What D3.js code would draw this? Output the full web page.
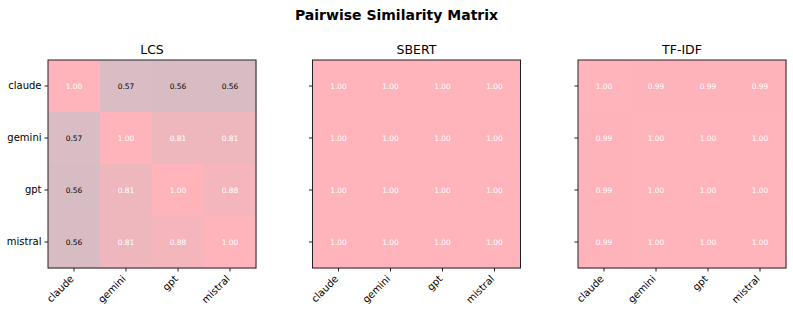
<!DOCTYPE html>
<html>
<head>
<meta charset="utf-8">
<script src="https://cdn.jsdelivr.net/npm/d3@7"></script>
<style>
  body { margin: 0; background: #fff; }
  svg { font-family: "DejaVu Sans", sans-serif; }
</style>
</head>
<body>
<div id="chart"></div>
<script>
/** model names, shared by rows and columns */
let models = ['claude', 'gemini', 'gpt', 'mistral'];

/** one matrix per metric */
let lcsValues = [
  [1.00, 0.57, 0.56, 0.56],
  [0.57, 1.00, 0.81, 0.81],
  [0.56, 0.81, 1.00, 0.88],
  [0.56, 0.81, 0.88, 1.00]
];
let sbertValues = [
  [1.00, 1.00, 1.00, 1.00],
  [1.00, 1.00, 1.00, 1.00],
  [1.00, 1.00, 1.00, 1.00],
  [1.00, 1.00, 1.00, 1.00]
];
let tfidfValues = [
  [1.00, 0.99, 0.99, 0.99],
  [0.99, 1.00, 1.00, 1.00],
  [0.99, 1.00, 1.00, 1.00],
  [0.99, 1.00, 1.00, 1.00]
];
let panelTitles = ['LCS', 'SBERT', 'TF-IDF'];
let panelData = [lcsValues, sbertValues, tfidfValues];

let width = 793;
let height = 313;
let size = 208;
let panelLefts = [48, 312.5, 578];
let panelTop = 60;

let svg = d3.select('#chart')
  .append('svg')
  .attr('width', width)
  .attr('height', height);

/** colour scale, low = greyish blue, high = pink */
let colorScale = d3.scaleLinear()
  .domain([0, 1])
  .range(['#a6c7d1', '#ffb3ba'])
  .interpolate(d3.interpolateRgb);

svg.append('text')
  .attr('x', width / 2)
  .attr('y', 20)
  .attr('text-anchor', 'middle')
  .style('font-size', '14px')
  .style('font-weight', 'bold')
  .text('Pairwise Similarity Matrix');

panelData.forEach(function (matrix, p) {
  let g = svg.append('g')
    .attr('transform', `translate(${panelLefts[p]},${panelTop})`);

  let x = d3.scaleBand().domain(models).range([0, size]);
  let y = d3.scaleBand().domain(models).range([0, size]);

  let cells = [];
  matrix.forEach((row, i) => row.forEach((v, j) => cells.push({ r: models[i], c: models[j], v: v })));

  g.selectAll('rect.cell')
    .data(cells)
    .enter()
    .append('rect')
    .attr('class', 'cell')
    .attr('x', d => x(d.c))
    .attr('y', d => y(d.r))
    .attr('width', x.bandwidth() + 0.5)
    .attr('height', y.bandwidth() + 0.5)
    .attr('fill', d => colorScale(d.v));

  g.selectAll('text.val')
    .data(cells)
    .enter()
    .append('text')
    .attr('class', 'val')
    .attr('x', d => x(d.c) + x.bandwidth() / 2)
    .attr('y', d => y(d.r) + y.bandwidth() / 2)
    .attr('dy', '0.35em')
    .attr('text-anchor', 'middle')
    .style('font-size', '7.5px')
    .attr('fill', d => d.v < 0.7 ? '#000' : '#fff')
    .text(d => d.v.toFixed(2));

  g.append('rect')
    .attr('width', size)
    .attr('height', size)
    .attr('fill', 'none')
    .attr('stroke', '#222')
    .attr('stroke-width', 1);

  let xAxis = g.append('g')
    .attr('transform', `translate(0,${size})`)
    .call(d3.axisBottom(x).tickSize(3.5).tickSizeOuter(0));
  xAxis.select('.domain').remove();
  xAxis.selectAll('line').attr('stroke', '#222');
  xAxis.selectAll('text')
    .style('font-size', '10px')
    .style('font-family', '"DejaVu Sans", sans-serif')
    .attr('fill', '#000')
    .attr('text-anchor', 'end')
    .attr('x', 0)
    .attr('y', 0)
    .attr('dx', 0)
    .attr('dy', '0.35em')
    .attr('transform', 'translate(-2,9) rotate(-45)');

  let yAxis = g.append('g')
    .call(d3.axisLeft(y).tickSize(3.5).tickSizeOuter(0));
  yAxis.select('.domain').remove();
  yAxis.selectAll('line').attr('stroke', '#222');
  yAxis.selectAll('text')
    .style('font-size', '10px')
    .style('font-family', '"DejaVu Sans", sans-serif')
    .attr('fill', '#000');
  if (p > 0) yAxis.selectAll('text').remove();

  g.append('text')
    .attr('x', size / 2)
    .attr('y', -6)
    .attr('text-anchor', 'middle')
    .style('font-size', '12.5px')
    .text(panelTitles[p]);
});
</script>
</body>
</html>
